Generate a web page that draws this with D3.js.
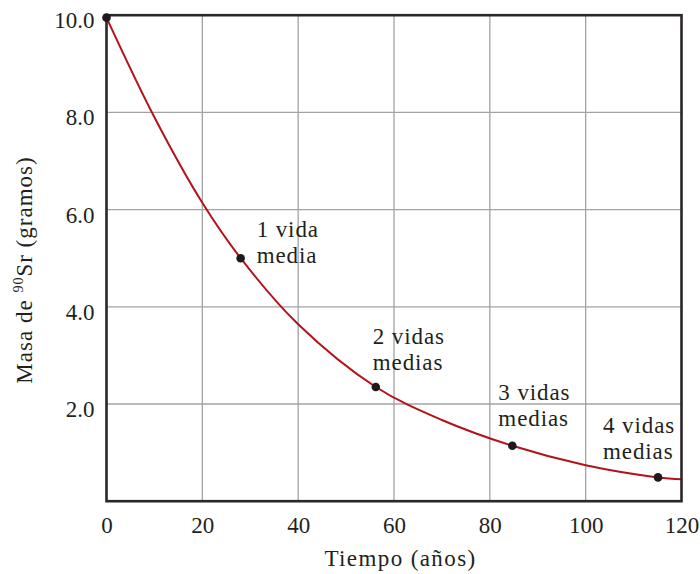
<!DOCTYPE html>
<html>
<head>
<meta charset="utf-8">
<script src="https://cdn.jsdelivr.net/npm/d3@7/dist/d3.min.js"></script>
<style>
  html, body { margin: 0; padding: 0; background: #fff; }
  svg { display: block; }
  text { font-family: "Liberation Serif", "Times New Roman", serif; fill: #231f20; }
</style>
</head>
<body>
<svg id="chart" width="700" height="574"></svg>
<script>
// ---- data ----
const curveTimes  = [0, 10, 20, 28, 40, 56.2, 70, 84.7, 100, 115.1, 120];
const curveMasses = [9.95, 7.9, 6.14, 5.0, 3.64, 2.35, 1.67, 1.14, 0.74, 0.49, 0.45];

const pointTimes  = [0, 28, 56.2, 84.7, 115.1];
const pointMasses = [9.95, 5.0, 2.35, 1.14, 0.49];

const labelLines = [
  null,
  ["1 vida", "media"],
  ["2 vidas", "medias"],
  ["3 vidas", "medias"],
  ["4 vidas", "medias"]
];

const xTicks = [0, 20, 40, 60, 80, 100, 120];
const yTicks = [2, 4, 6, 8, 10];
const yTickLabels = ["2.0", "4.0", "6.0", "8.0", "10.0"];
const xTitle = "Tiempo (años)";

// ---- layout ----
const svg = d3.select("#chart");
const mLeft = 106.5, mRight = 681.5, mTop = 15.2, mBottom = 501.2;

const x = d3.scaleLinear().domain([0, 120]).range([mLeft, mRight]);
const y = d3.scaleLinear().domain([0, 10]).range([mBottom, mTop]);

// gridlines
const grid = svg.append("g").attr("class", "grid");
grid.selectAll("line.v").data(xTicks.slice(1, -1)).join("line")
  .attr("x1", d => x(d)).attr("x2", d => x(d))
  .attr("y1", mTop).attr("y2", mBottom)
  .attr("stroke", "#a3a3a3").attr("stroke-width", 1.3);
grid.selectAll("line.h").data(yTicks.slice(0, -1)).join("line")
  .attr("x1", mLeft).attr("x2", mRight)
  .attr("y1", d => y(d)).attr("y2", d => y(d))
  .attr("stroke", "#a3a3a3").attr("stroke-width", 1.3);

// axes via d3 (tick labels)
const xAxis = d3.axisBottom(x).tickValues(xTicks).tickSize(0).tickPadding(0).tickFormat(d3.format("d"));
const gx = svg.append("g").attr("transform", `translate(0,${mBottom})`).call(xAxis);
gx.select(".domain").remove();
gx.selectAll("text")
  .attr("font-size", 23).attr("fill", "#231f20")
  .style("font-family", "'Liberation Serif', serif")
  .attr("dy", null).attr("y", 32);

const yAxis = d3.axisLeft(y).tickValues(yTicks).tickSize(0).tickPadding(0)
  .tickFormat((d, i) => yTickLabels[i]);
const gy = svg.append("g").attr("transform", `translate(${mLeft},0)`).call(yAxis);
gy.select(".domain").remove();
gy.selectAll("text")
  .attr("font-size", 23).attr("fill", "#231f20")
  .style("font-family", "'Liberation Serif', serif")
  .attr("x", -12).attr("dy", null).attr("y", 12.5);

// curve
const line = d3.line()
  .x((d, i) => x(curveTimes[i]))
  .y((d, i) => y(curveMasses[i]))
  .curve(d3.curveCatmullRom.alpha(0.5));
svg.append("path")
  .datum(curveMasses)
  .attr("d", line)
  .attr("fill", "none")
  .attr("stroke", "#b3121c")
  .attr("stroke-width", 2);

// frame
svg.append("rect")
  .attr("x", mLeft).attr("y", mTop)
  .attr("width", mRight - mLeft).attr("height", mBottom - mTop)
  .attr("fill", "none").attr("stroke", "#2b2627").attr("stroke-width", 2.6);

// points
svg.selectAll("circle.pt").data(pointTimes).join("circle")
  .attr("cx", (d) => x(d))
  .attr("cy", (d, i) => y(pointMasses[i]))
  .attr("r", 4.3)
  .attr("fill", "#1e1a1b");

// point labels
const labelOffsets = [null, [16, -21], [-3, -43], [-14, -46], [-55, -44]];
pointTimes.forEach((t, i) => {
  if (!labelLines[i]) return;
  const px = x(t) + labelOffsets[i][0];
  const py = y(pointMasses[i]) + labelOffsets[i][1];
  const txt = svg.append("text")
    .attr("font-size", 23).attr("letter-spacing", 0.9);
  labelLines[i].forEach((s, k) => {
    txt.append("tspan").attr("x", px).attr("y", py + k * 26).text(s);
  });
});

// x title
svg.append("text")
  .attr("x", 400.5).attr("y", 566)
  .attr("text-anchor", "middle")
  .attr("font-size", 23).attr("letter-spacing", 1.4)
  .text(xTitle);

// y title with superscript
const yt = svg.append("text")
  .attr("transform", "translate(32,270) rotate(-90)")
  .attr("text-anchor", "middle")
  .attr("font-size", 23).attr("letter-spacing", 1);
yt.append("tspan").text("Masa de ");
yt.append("tspan").attr("font-size", 14).attr("dy", -9).text("90");
yt.append("tspan").attr("dy", 9).text("Sr (gramos)");
</script>
</body>
</html>
